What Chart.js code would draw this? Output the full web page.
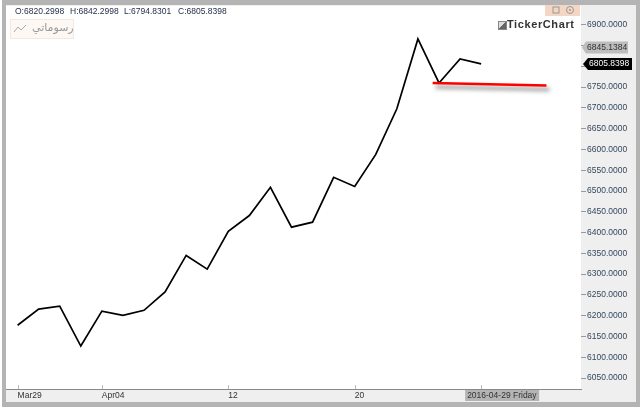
<!DOCTYPE html>
<html>
<head>
<meta charset="utf-8">
<script src="https://cdn.jsdelivr.net/npm/chart.js@4"></script>
<style>
    html, body { margin: 0; padding: 0; background: #fff; overflow: hidden; }
    #frame { position: absolute; left: 2px; top: 0; width: 630px; height: 397px; background: #efefef;
             border: solid #b4b4b4; border-width: 5px 6px 5px 4px; }
    canvas { position: absolute; left: 0; top: 0; }
    .ohlc { position: absolute; top: 6px; font: 8.5px "Liberation Sans", sans-serif; color: #24304a; }
    #legendBox { position: absolute; left: 10px; top: 19px; width: 62px; height: 18px; background: #fdf8f3;
                 border: 1px solid #f3e9e0; font: 11px "DejaVu Sans", sans-serif; color: #999; }
    #legendBox span { position: absolute; left: 21px; top: 1px; }
    #legendBox svg { position: absolute; left: 2px; top: 4px; }
    #brand { position: absolute; left: 507px; top: 18px; font: bold 11px "Liberation Sans", sans-serif;
             color: #333; letter-spacing: 0.6px; }
    #brandIcon { position: absolute; left: 498px; top: 21px; width: 7px; height: 7px; background: linear-gradient(135deg, #ddd 50%, #666 50%); border: 0.5px solid #888; }
    #buttons { position: absolute; left: 545px; top: 5px; width: 35px; height: 11px; background: #f3d6c4; }
    #buttons svg { position: absolute; left: 0; top: 0; }
</style>
</head>
<body>
<div id="frame"></div>
<canvas id="chart" width="640" height="408"></canvas>
<div class="ohlc" style="left:15px">O:6820.2998</div>
<div class="ohlc" style="left:70px">H:6842.2998</div>
<div class="ohlc" style="left:124px">L:6794.8301</div>
<div class="ohlc" style="left:178px">C:6805.8398</div>
<div id="legendBox">
    <svg width="16" height="10"><polyline points="1,8 5,3 8,6 13,1" fill="none" stroke="#aaa" stroke-width="1"/></svg>
    <span dir="rtl">رسوماتي</span>
</div>
<div id="brandIcon"></div>
<div id="brand">TickerChart</div>
<div id="buttons">
    <svg width="35" height="11">
        <rect x="8" y="2" width="6" height="6" fill="none" stroke="#999"/>
        <circle cx="25" cy="5" r="3.5" fill="none" stroke="#999"/>
        <circle cx="25" cy="5" r="1" fill="#999"/>
    </svg>
</div>
<script>
    // Closing values, one per trading day from Mar29 to Apr29
    const closeValues = [6177, 6216, 6223, 6127, 6211, 6201, 6213, 6257, 6345, 6312, 6403, 6441,
        6509, 6413, 6425, 6533, 6511, 6588, 6698, 6866, 6760, 6818, 6805.8398];

    // Red line drawn on top of the chart
    const trendX = [19.7, 25.1];
    const trendY = [6760, 6754];

    const xTickIndexes = [0, 4, 10, 16, 22];
    const xTickLabels = ['Mar29', 'Apr04', '12', '20', ''];
    const crosshairLabel = '2016-04-29 Friday';

    const yTickValues = [6900, 6850, 6800, 6750, 6700, 6650, 6600, 6550, 6500, 6450, 6400, 6350,
        6300, 6250, 6200, 6150, 6100, 6050];
    const grayTagValue = 6845.1384;
    const lastValue = 6805.8398;

    const labelFont = { family: "'Liberation Sans', sans-serif", size: 8.5 };

    // White plot background, tick marks inside the x axis and the price tags
    const chromePlugin = {
        id: 'chrome',
        beforeDraw(chart) {
            const { ctx, chartArea: a } = chart;
            ctx.fillStyle = '#fff';
            ctx.fillRect(a.left, a.top, a.right - a.left, a.bottom - a.top);
        },
        afterDraw(chart) {
            const { ctx, chartArea: a, scales } = chart;
            ctx.save();
            ctx.strokeStyle = '#bbb';
            ctx.lineWidth = 1;
            xTickIndexes.forEach(i => {
                const px = Math.round(scales.x.getPixelForValue(i)) + 0.5;
                ctx.beginPath();
                ctx.moveTo(px, a.bottom - 4);
                ctx.lineTo(px, a.bottom);
                ctx.stroke();
            });

            // crosshair date label
            const lx = scales.x.getPixelForValue(22) - 16;
            ctx.fillStyle = '#b4b4b4';
            ctx.fillRect(lx, a.bottom + 1, 74, 11);
            ctx.fillStyle = '#333';
            ctx.font = '8.5px "Liberation Sans", sans-serif';
            ctx.textBaseline = 'middle';
            ctx.textAlign = 'left';
            ctx.fillText(crosshairLabel, lx + 2, a.bottom + 6.5);

            // gray tag
            let y = scales.y.getPixelForValue(grayTagValue);
            ctx.fillStyle = '#bdbdbd';
            ctx.beginPath();
            ctx.moveTo(582, y);
            ctx.lineTo(586, y - 6);
            ctx.lineTo(628, y - 6);
            ctx.lineTo(628, y + 6);
            ctx.lineTo(586, y + 6);
            ctx.closePath();
            ctx.fill();
            ctx.fillStyle = '#333';
            ctx.fillText(grayTagValue.toFixed(4), 587, y);

            // last price tag
            y = scales.y.getPixelForValue(lastValue);
            ctx.fillStyle = '#000';
            ctx.beginPath();
            ctx.moveTo(583, y);
            ctx.lineTo(588, y - 6);
            ctx.lineTo(632, y - 6);
            ctx.lineTo(632, y + 6);
            ctx.lineTo(588, y + 6);
            ctx.closePath();
            ctx.fill();
            ctx.fillStyle = '#fff';
            ctx.fillText(lastValue.toFixed(4), 589, y);
            ctx.restore();
        },
        beforeDatasetDraw(chart, args) {
            if (args.index !== 0) return;
            const ctx = chart.ctx;
            ctx.save();
            ctx.shadowColor = 'rgba(90,90,90,0.8)';
            ctx.shadowBlur = 4;
            ctx.shadowOffsetX = 3;
            ctx.shadowOffsetY = 4;
        },
        afterDatasetDraw(chart, args) {
            if (args.index === 0) chart.ctx.restore();
        }
    };

    new Chart(document.getElementById('chart'), {
        type: 'line',
        data: {
            datasets: [{
                data: trendX.map((x, i) => ({ x: x, y: trendY[i] })),
                borderColor: '#ff0000',
                borderWidth: 2.5,
                pointRadius: 0,
                order: 0
            }, {
                data: closeValues.map((v, i) => ({ x: i, y: v })),
                borderColor: '#000',
                borderWidth: 1.7,
                pointRadius: 0,
                order: 1
            }]
        },
        options: {
            responsive: false,
            animation: false,
            devicePixelRatio: 1,
            layout: { padding: { left: 6, top: 5, right: 0, bottom: 0 } },
            plugins: { legend: { display: false }, tooltip: { enabled: false } },
            scales: {
                x: {
                    type: 'linear',
                    min: -0.55,
                    max: 26.74,
                    afterBuildTicks: scale => { scale.ticks = xTickIndexes.map(v => ({ value: v })); },
                    afterFit: scale => { scale.height = 19; },
                    grid: { display: false, tickLength: 0 },
                    border: { color: '#888', width: 1 },
                    ticks: {
                        autoSkip: false,
                        maxRotation: 0,
                        align: 'start',
                        padding: 2,
                        color: '#333',
                        font: labelFont,
                        callback: v => xTickLabels[xTickIndexes.indexOf(v)]
                    }
                },
                y: {
                    position: 'right',
                    min: 6023.6,
                    max: 6945,
                    afterBuildTicks: scale => { scale.ticks = yTickValues.map(v => ({ value: v })); },
                    afterFit: scale => { scale.width = 59; },
                    grid: { drawOnChartArea: false, tickLength: 5, tickColor: '#999' },
                    border: { display: false },
                    ticks: {
                        padding: 1,
                        color: '#34485e',
                        font: labelFont,
                        callback: v => v.toFixed(4)
                    }
                }
            }
        },
        plugins: [chromePlugin]
    });
</script>
</body>
</html>
